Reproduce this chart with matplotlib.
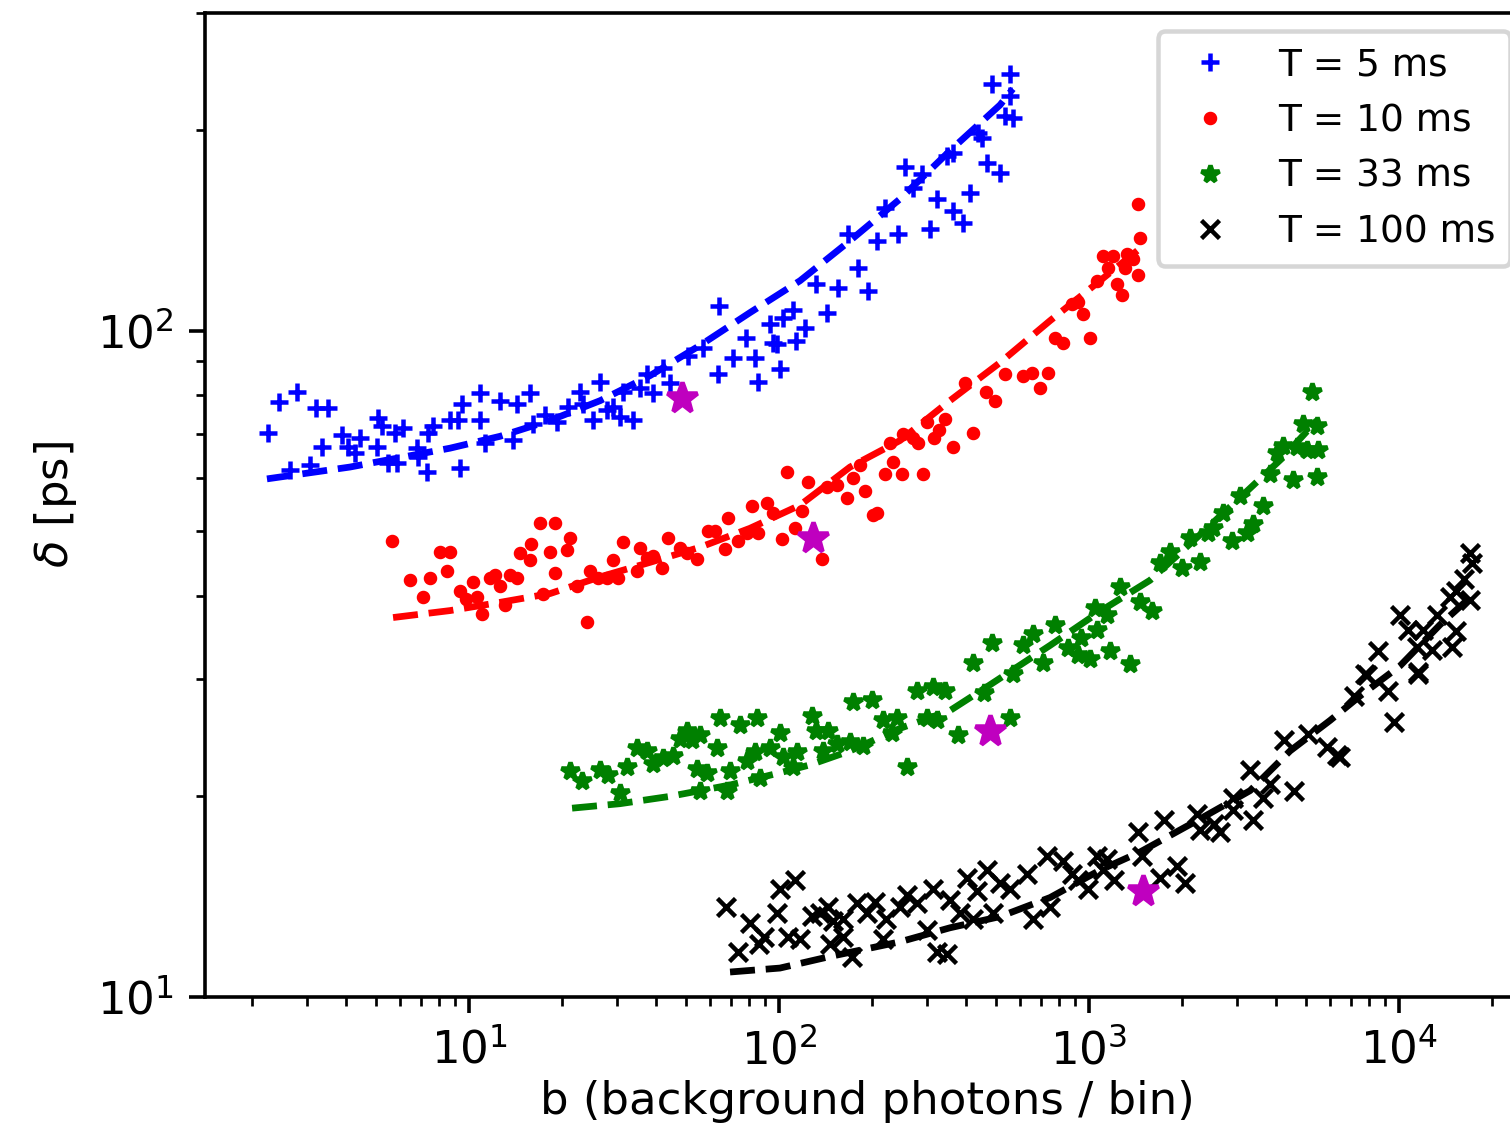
import numpy as np
import matplotlib
matplotlib.use('Agg')
import matplotlib.pyplot as plt

#===================
# Data
#===================
labels = ['T = 5 ms', 'T = 10 ms', 'T = 33 ms', 'T = 100 ms']

# T = 5 ms
b_5 = [2.25, 2.44, 2.79, 3.21, 3.51, 2.65, 3.07, 3.36, 3.90, 4.07, 4.45, 4.29, 5.05, 5.08,
       5.24, 5.77, 6.13, 5.48, 5.85, 6.80, 6.85, 7.32, 7.37, 7.65, 8.68, 9.2, 9.35, 9.5,
       10.85, 10.85, 11.3, 12.6, 13.9, 14.3, 15.7, 16.1, 17.6, 19.2, 20.9, 22.8, 23.3, 26.5,
       25.1, 27.9, 30.7, 33.8, 31.4, 35.6, 39.2, 37.5, 42.3, 44.5, 78.3, 98.5, 113.6, 56.9,
       50.9, 71.1, 83.7, 100.7, 63.6, 85.6, 29.1,
       556, 486, 556, 536, 568, 438, 451, 364, 347, 468, 516, 255, 289, 270, 413, 323, 364,
       392, 220, 167, 207, 242, 307, 180, 132, 155, 193, 143, 63.8, 111, 103, 93.5, 121, 95.5]
d_5 = [70.3, 78.0, 81.0, 76.4, 76.4, 61.7, 62.8, 66.8, 69.6, 66.8, 68.9, 65.6, 66.8, 73.8,
       72.0, 70.3, 71.5, 63.3, 63.3, 66.6, 64.5, 61.3, 70.3, 72.0, 73.3, 73.3, 62.3, 77.7,
       80.7, 73.3, 67.9, 78.5, 68.4, 77.7, 80.7, 72.5, 74.6, 72.8, 76.7, 81.0, 77.7, 83.6,
       73.3, 75.9, 74.1, 73.3, 81.0, 82.1, 80.7, 86.2, 87.9, 83.3, 97.6, 95.6, 96.6, 94.3,
       91.7, 91.1, 91.1, 87.7, 86.2, 83.6, 76.7,
       243, 234.6, 225.1, 210, 208.3, 198.1, 194.4, 185.0, 183.1, 178.7, 172.6, 175.7, 172.0,
       163.7, 161.0, 157.8, 151.3, 145.0, 152.9, 139.8, 136.4, 139.8, 142.2, 124.3, 117.6,
       115.9, 114.8, 106.4, 109.0, 107.5, 104.6, 102.4, 101.0, 95.9]
bfit_5 = [2.23, 4.13, 8.68, 12.6, 18.25, 26.5, 38.4, 55.6, 80.6, 116.9, 169.4, 245.7, 356, 516, 568]
dfit_5 = [59.9, 62.4, 66.6, 69.4, 73.3, 78.5, 85.6, 95.0, 106.4, 118.8, 136.4, 157.6, 186.2, 218, 230.5]

# T = 10 ms
b_10 = [5.64, 6.45, 7.48, 7.1, 8.06, 8.68, 8.5, 9.35, 10.3, 9.8, 10.6, 11.0, 11.7, 12.1, 12.6,
        13.6, 14.3, 14.6, 15.7, 15.9, 16.9, 18.9, 21.2, 18.25, 20.7, 18.9, 13.1, 17.3, 22.3,
        24.0, 24.6, 26.1, 27.9, 29.1, 30.2, 31.4, 34.8, 35.6, 37.5, 39.2, 41.9, 43.8, 47.9,
        50.4, 54.4, 58.9, 62.0, 68.5, 67.0, 73.8, 78.9, 81.9, 85.6, 91.5, 95.6, 102, 112.4,
        106, 124, 118.6, 137.6, 142.8, 154, 165.5, 173, 182.5, 190, 207, 201, 220, 234, 250,
        228, 251, 270, 281, 292, 301, 316, 327, 343, 364, 399, 423, 464, 497, 536, 612, 656,
        695, 738, 779, 827, 1007, 1438, 1460, 1109, 1193, 1328, 1390, 1152, 1310, 1438, 1060,
        1230, 1280, 880, 958, 920]
d_10 = [48.4, 42.2, 42.5, 39.8, 46.5, 46.5, 43.6, 40.7, 41.9, 39.6, 39.8, 37.6, 42.5, 42.9, 41.4,
        42.9, 42.5, 46.3, 45.2, 47.9, 51.5, 51.4, 48.9, 46.5, 46.8, 43.3, 38.7, 40.3, 41.4,
        36.5, 43.6, 42.5, 42.5, 45.2, 42.5, 48.1, 43.6, 47.2, 45.5, 45.9, 44.1, 48.9, 47.2,
        46.3, 45.4, 50.1, 50.1, 52.3, 47.0, 48.4, 49.7, 54.6, 49.7, 55.1, 53.3, 48.7, 50.6,
        61.3, 59.2, 53.7, 45.4, 58.2, 58.6, 56.0, 60.0, 62.9, 57.5, 53.3, 52.8, 61.0, 63.4, 61.0,
        67.9, 69.9, 69.0, 67.7, 61.0, 72.8, 69.0, 71.0, 73.6, 66.8, 83.3, 70.3, 80.8, 78.5,
        86.2, 85.6, 86.5, 82.1, 86.5, 97.6, 95.9, 97.6, 155.0, 137.6, 129.5, 129.5, 130.4,
        128.2, 124.3, 124.3, 121.0, 118.8, 117.6, 113.0, 109.8, 106.0, 110.2]
bfit_10 = [5.69, 8.68, 12.6, 18.25, 26.5, 38.4, 55.6, 80.6, 116.9, 169.4, 245.7, 356, 516, 749, 1085, 1460]
dfit_10 = [37.1, 38.0, 39.1, 40.3, 42.7, 44.9, 47.3, 50.5, 54.7, 62.4, 68.4, 78.5, 89.5, 103.5, 118.8, 132.8]

# T = 33 ms
b_33 = [21.2, 23.1, 26.5, 28.1, 30.7, 32.4, 34.8, 37.5, 39.2, 42.3, 45.5, 47.9, 50.4, 52.5, 55.6,
        54.4, 55.6, 58.6, 63.2, 64.5, 68.0, 69.5, 74.9, 79, 83.7, 85, 86.9, 93.5, 100.7, 103,
        114.6, 111, 127.8, 131.6, 143.9, 139, 154, 169.4, 173, 186.6, 199.5, 216.5, 231, 241,
        258.6, 279, 301, 314, 343, 323, 378, 423, 457, 486, 556, 568, 612, 660, 709, 779, 855,
        920, 940, 1007, 1060, 1046, 1146, 1169, 1259, 1356, 1460, 1596, 1694, 1825, 1995, 2281,
        2117, 2420, 2515, 2900, 2710, 3240, 3390, 3070, 3640, 3836, 4040, 4220, 4680, 4550,
        5040, 5470, 5430, 4910, 5430, 5240]
d_33 = [21.8, 21.1, 21.9, 21.5, 20.2, 22.1, 23.6, 23.4, 22.4, 22.8, 23.0, 24.4, 25.1, 24.3, 24.7,
        22.0, 20.4, 21.7, 23.6, 26.2, 20.4, 21.8, 25.6, 22.6, 23.3, 26.2, 21.3, 23.6, 24.9, 22.9,
        23.3, 22.1, 26.4, 25.1, 25.1, 23.4, 24.0, 24.1, 27.7, 23.8, 27.9, 26.0, 24.9, 26.2,
        22.1, 28.8, 26.2, 29.2, 28.8, 26.0, 24.7, 31.7, 28.6, 34.0, 26.2, 30.5, 33.7, 35.0,
        31.7, 36.2, 33.4, 32.6, 34.6, 32.2, 35.5, 38.4, 37.4, 33.1, 41.2, 31.6, 39.1, 38.0,
        44.8, 46.5, 44.0, 45.0, 48.9, 49.6, 50.6, 48.4, 53.3, 49.6, 51.2, 56.5, 54.6, 61.0,
        65.6, 67.2, 66.8, 59.6, 66.1, 66.1, 60.2, 72.3, 71.9, 80.8]
bfit_33 = [21.5, 30.7, 44.5, 69.5, 100.7, 125.9, 169.4, 245.7, 356, 479, 749, 1085, 1573, 2281, 3307, 4220, 5430]
dfit_33 = [19.2, 19.5, 20.0, 20.8, 21.7, 22.3, 23.4, 25.3, 26.9, 29.4, 33.7, 37.9, 42.2, 49.4, 58.0, 64.5, 73.3]

# T = 100 ms
b_100 = [67.5, 73.8, 80.6, 89.4, 86.2, 100.7, 112.7, 98.5, 107, 117, 127.8, 135.6, 143.9, 149.5,
         161, 146, 161, 178.5, 192, 204, 172, 216.5, 222, 245.7, 258.6, 279, 301, 323, 348, 314,
         356, 383.6, 404, 436, 468, 490, 423, 516, 556, 630, 660, 749, 732, 827, 880, 920, 993,
         1060, 1146, 1110, 1200, 1438, 1480, 1740, 1694, 1922, 2040, 2230, 2281, 2530, 2646,
         2910, 2910, 3307, 3390, 3650, 3836, 4590, 4250, 5090, 5860, 6450, 7160, 7890, 9200,
         9640, 11550, 16940, 17210, 16200, 15300, 16940, 14600, 13240, 15300, 14830, 11930,
         12770, 10075, 10700, 11450, 11540, 8560, 7760, 6300]
d_100 = [13.65, 11.7, 12.9, 12.3, 12.0, 14.5, 15.0, 13.35, 12.3, 12.2, 13.25, 13.35, 13.65, 13.0,
         13.1, 12.0, 12.3, 13.85, 13.35, 13.9, 11.5, 12.2, 13.1, 13.65, 14.2, 13.85, 12.6, 11.7,
         11.6, 14.5, 14.0, 13.35, 15.1, 14.4, 15.5, 13.35, 13.1, 14.85, 14.5, 15.3, 13.1, 13.65,
         16.3, 16.0, 15.3, 15.0, 14.5, 16.3, 16.1, 15.5, 15.0, 17.7, 16.3, 18.4, 15.1, 15.7,
         14.8, 18.8, 17.8, 18.2, 17.7, 19.1, 19.9, 21.9, 18.4, 19.9, 20.9, 20.4, 24.3, 24.8,
         23.7, 22.9, 28.3, 30.4, 28.8, 25.9, 30.7, 46.3, 44.8, 42.4, 40.7, 39.4, 39.8, 37.4,
         35.4, 33.5, 35.5, 33.2, 37.4, 35.5, 33.5, 30.5, 33.0, 30.5, 23.1]
bfit_100 = [69.5, 100.7, 146, 245.7, 356, 516, 749, 1085, 1460, 2281, 3307, 4450, 5990, 7490, 10075, 13560, 17600]
dfit_100 = [10.9, 11.05, 11.5, 12.1, 12.7, 13.2, 14.1, 15.5, 16.5, 18.5, 20.4, 23.4, 26.0, 28.3, 31.4, 36.2, 40.4]

# highlighted points (one per T)
star_b = [48.6, 128.7, 479, 1490]
star_d = [79.3, 48.9, 25.1, 14.4]
#===================

#===================
# Plot
#===================
DPI = 324
fig = plt.figure(figsize=(1511/DPI, 1126/DPI), dpi=DPI)
ax = fig.add_axes([0.1357, 0.1146, 0.8762, 0.8742])

ax.plot(b_5,   d_5,   'b+', ms=4, label=labels[0])
ax.plot(bfit_5, dfit_5, 'b--')
ax.plot(b_10,  d_10,  'r.', ms=4, label=labels[1])
ax.plot(bfit_10, dfit_10, 'r--')
ax.plot(b_33,  d_33,  'g*', ms=4, label=labels[2])
ax.plot(bfit_33, dfit_33, 'g--')
ax.plot(b_100, d_100, 'kx', ms=4, label=labels[3])
ax.plot(bfit_100, dfit_100, 'k--')
ax.plot(star_b, star_d, 'm*', ms=7, ls='none')

ax.set_xscale('log')
ax.set_yscale('log')
ax.set_xlim(1.408, 26240)
ax.set_ylim(10, 300)
ax.set_xlabel('b (background photons / bin)', labelpad=1.5)
ax.set_ylabel(r'$\delta$ [ps]')
ax.legend(loc='upper right', fontsize='small')

fig.savefig('out.png', dpi=DPI)
#===================
